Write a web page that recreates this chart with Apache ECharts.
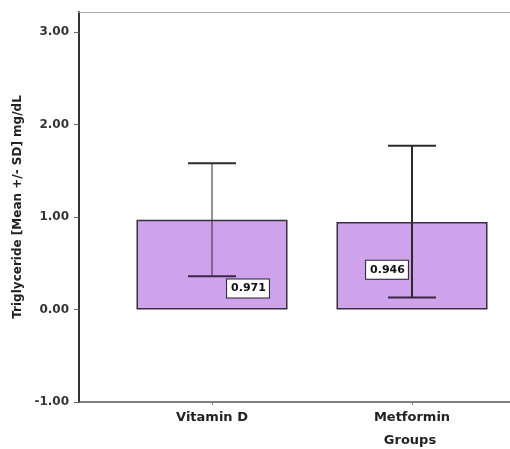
<!DOCTYPE html>
<html>
<head>
<meta charset="utf-8">
<script src="https://cdn.jsdelivr.net/npm/echarts@6/dist/echarts.min.js"></script>
<style>html,body{margin:0;padding:0;background:#fff;overflow:hidden}#c{width:510px;height:449px}</style>
</head>
<body>
<div id="c"></div>
<script>
// ---- data ----
const categories = ['Vitamin D', 'Metformin'];
const meanValues = [0.971, 0.946];
const errLow = [0.36, 0.13];
const errHigh = [1.58, 1.77];
const yTicks = [-1, 0, 1, 2, 3];
const valueLabels = ['0.971', '0.946'];

// ---- styles ----
const FONT = 'DejaVu Sans';
const stemWidths = [1, 2];
const labelOffsets = [[36, 24], [-25, 4]];
const X_MIN = 0.335, X_MAX = 2.49;

const chart = echarts.init(document.getElementById('c'), null, {renderer: 'canvas'});

const barData = categories.map((c, i) => ({
  value: [i + 1, meanValues[i]],
  label: {
    show: true,
    position: 'inside',
    offset: labelOffsets[i],
    formatter: valueLabels[i],
    fontFamily: FONT,
    fontWeight: 'bold',
    fontSize: 11,
    color: '#111',
    backgroundColor: '#fff',
    borderColor: '#222',
    borderWidth: 1,
    padding: [4, 3, 3, 4]
  }
}));
const errData = categories.map((c, i) => [i + 1, errLow[i], errHigh[i]]);

chart.setOption({
  backgroundColor: '#fff',
  animation: false,
  title: {
    text: 'Groups',
    left: 410,
    top: 434,
    padding: 0,
    textAlign: 'center',
    textStyle: {fontFamily: FONT, fontWeight: 'bold', fontSize: 13, color: '#222'}
  },
  grid: {left: 79, right: 0, top: 12, bottom: 47, show: false},
  xAxis: [{
    type: 'value',
    min: X_MIN,
    max: X_MAX,
    splitLine: {show: false},
    axisLine: {show: true, onZero: false, lineStyle: {color: '#555', width: 1.5}},
    axisTick: {show: true, customValues: [1, 2], length: 3, lineStyle: {color: '#777'}},
    axisLabel: {
      customValues: [1, 2],
      margin: 9,
      formatter: v => categories[Math.round(v) - 1] || '',
      fontFamily: FONT, fontWeight: 'bold', fontSize: 13, color: '#222'
    }
  }, {
    type: 'value',
    position: 'top',
    min: X_MIN,
    max: X_MAX,
    splitLine: {show: false},
    axisLine: {show: true, onZero: false, lineStyle: {color: '#aaa', width: 1}},
    axisTick: {show: false},
    axisLabel: {show: false}
  }],
  yAxis: {
    type: 'value',
    min: -1,
    max: 3.216,
    name: 'Triglyceride [Mean +/- SD] mg/dL',
    nameLocation: 'middle',
    nameGap: 51,
    nameTextStyle: {fontFamily: FONT, fontWeight: 'bold', fontSize: 12, color: '#222'},
    splitLine: {show: false},
    axisLine: {show: true, onZero: false, lineStyle: {color: '#333', width: 2}},
    axisTick: {show: true, customValues: yTicks, length: 5, lineStyle: {color: '#666'}},
    axisLabel: {
      customValues: yTicks,
      margin: 10,
      formatter: v => v.toFixed(2),
      fontFamily: FONT, fontWeight: 'bold', fontSize: 12, color: '#333'
    }
  },
  series: [
    {
      type: 'bar',
      data: barData,
      barWidth: 151,
      itemStyle: {color: '#cfa3ec', borderColor: '#3a2d42', borderWidth: 1.5},
      z: 2
    },
    {
      type: 'custom',
      data: errData,
      z: 3,
      renderItem: function (params, api) {
        const x = api.value(0);
        const lo = api.coord([x, api.value(1)]);
        const hi = api.coord([x, api.value(2)]);
        const half = 24;
        const sw = stemWidths[params.dataIndex];
        return {
          type: 'group',
          children: [
            {type: 'line', shape: {x1: hi[0], y1: hi[1], x2: lo[0], y2: lo[1]}, style: {stroke: '#2b2b2b', lineWidth: sw}},
            {type: 'line', shape: {x1: hi[0] - half, y1: hi[1], x2: hi[0] + half, y2: hi[1]}, style: {stroke: '#2b2b2b', lineWidth: 2}},
            {type: 'line', shape: {x1: lo[0] - half, y1: lo[1], x2: lo[0] + half, y2: lo[1]}, style: {stroke: '#3b2547', lineWidth: 2}}
          ]
        };
      }
    }
  ]
});
</script>
</body>
</html>
